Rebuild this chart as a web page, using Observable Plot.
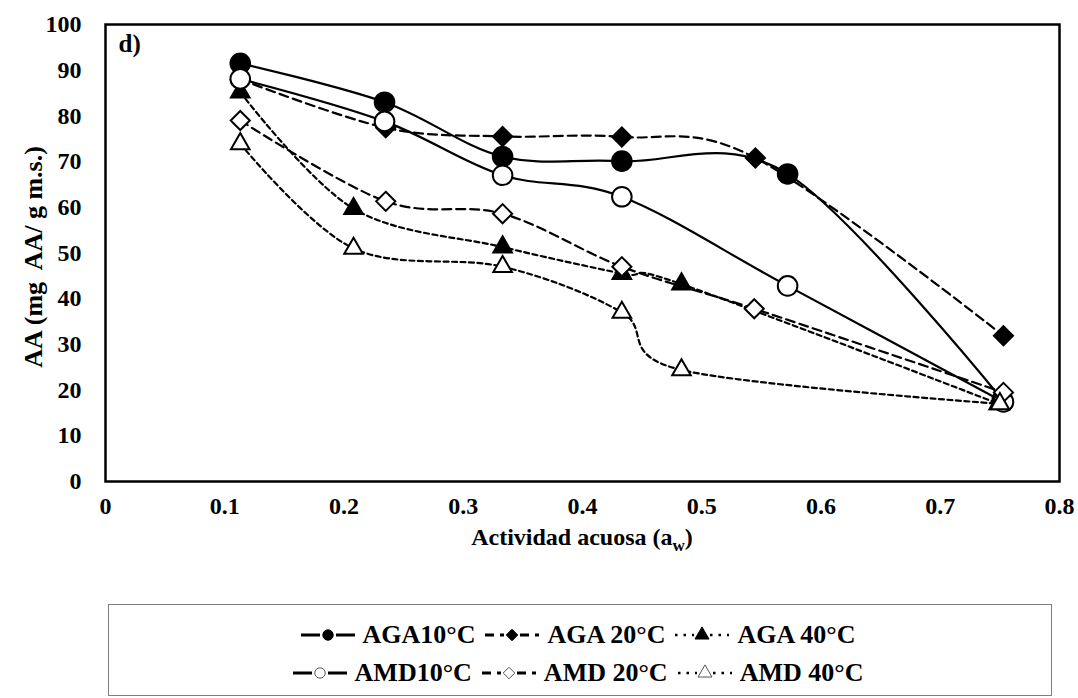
<!DOCTYPE html>
<html>
<head>
<meta charset="utf-8">
<script src="https://cdn.jsdelivr.net/npm/d3@7"></script>
<script src="https://cdn.jsdelivr.net/npm/@observablehq/plot@0.6"></script>
<style>
  html, body { margin: 0; padding: 0; background: #fff; }
  body { width: 1078px; height: 698px; position: relative; overflow: hidden; font-family: "Liberation Serif", serif; }
  #chart { position: absolute; left: 0; top: 0; }
  #chart svg, #chart svg text { font-family: "Liberation Serif", serif !important; font-weight: bold; }
  #legend { position: absolute; left: 108px; top: 604px; width: 944px; height: 92px; border: 1px solid #7f7f7f; box-sizing: border-box;
            display: flex; flex-direction: column; align-items: center; justify-content: flex-start; padding-top: 11px; }
  .row { display: flex; align-items: center; height: 38px; font-family: "Liberation Serif", serif; font-weight: bold; font-size: 26px; color: #000; }
  .item { display: flex; align-items: center; margin-right: 7px; }
  .item svg { margin-right: 5px; }
</style>
</head>
<body>
<div id="chart"></div>
<div id="legend"></div>
<script>
// ---- data ----
const seriesNames = ["AGA10°C", "AGA 20°C", "AGA 40°C", "AMD10°C", "AMD 20°C", "AMD 40°C"];

const awAGA10 = [0.113, 0.234, 0.333, 0.433, 0.572, 0.752];
const aaAGA10 = [91.5, 83.0, 71.1, 70.1, 67.3, 17.9];

const awAGA20 = [0.113, 0.235, 0.333, 0.433, 0.545, 0.753];
const aaAGA20 = [88.0, 77.4, 75.5, 75.4, 70.8, 31.9];

const awAGA40 = [0.113, 0.208, 0.333, 0.433, 0.483, 0.749];
const aaAGA40 = [85.2, 59.7, 51.3, 45.5, 43.2, 17.0];

const awAMD10 = [0.113, 0.234, 0.333, 0.433, 0.572, 0.753];
const aaAMD10 = [88.1, 78.8, 67.0, 62.3, 42.8, 17.4];

const awAMD20 = [0.113, 0.235, 0.333, 0.433, 0.544, 0.753];
const aaAMD20 = [79.0, 61.3, 58.6, 47.0, 37.8, 19.5];

const awAMD40 = [0.113, 0.208, 0.333, 0.433, 0.483, 0.750];
const aaAMD40 = [73.9, 51.0, 47.0, 37.0, 24.4, 17.0];

const xTicks = [0, 0.1, 0.2, 0.3, 0.4, 0.5, 0.6, 0.7, 0.8];
const yTicks = [0, 10, 20, 30, 40, 50, 60, 70, 80, 90, 100];

// ---- styles per series ----
const styles = {
  "AGA10°C":  {symbol: "circle",   r: 9.8, fill: "black", dash: null},
  "AGA 20°C": {symbol: "diamond2", r: 8.6, fill: "black", dash: "9,5"},
  "AGA 40°C": {symbol: "triangle", r: 6.9, fill: "black", dash: "5,3.5"},
  "AMD10°C":  {symbol: "circle",   r: 9.8, fill: "white", dash: null},
  "AMD 20°C": {symbol: "diamond2", r: 8.6, fill: "white", dash: "9,5"},
  "AMD 40°C": {symbol: "triangle", r: 6.9, fill: "white", dash: "5,3.5"}
};

const awList = [awAGA10, awAGA20, awAGA40, awAMD10, awAMD20, awAMD40];
const aaList = [aaAGA10, aaAGA20, aaAGA40, aaAMD10, aaAMD20, aaAMD40];
const table = seriesNames.map((name, i) => awList[i].map((aw, j) => ({series: name, aw, aa: aaList[i][j]})));

const lineMarks = table.map((rows) => {
  const s = styles[rows[0].series];
  return Plot.line(rows, {x: "aw", y: "aa", curve: "cardinal", stroke: "black", strokeWidth: 2.2,
    strokeDasharray: s.dash || undefined});
});
const dotMarks = table.map((rows) => {
  const s = styles[rows[0].series];
  return Plot.dot(rows, {x: "aw", y: "aa", symbol: () => s.symbol, r: s.r, fill: s.fill, stroke: "black", strokeWidth: 2});
});

const chart = Plot.plot({
  width: 1078,
  height: 570,
  marginLeft: 105,
  marginRight: 19,
  marginTop: 24,
  marginBottom: 89,
  x: {domain: [0, 0.8]},
  y: {domain: [0, 100]},
  symbol: {type: "identity"},
  style: "font-family: 'Liberation Serif', serif; font-weight: bold; font-size: 24px; color: black; background: white;",
  marks: [
    Plot.axisX({ticks: xTicks, tickSize: 0, tickPadding: 15, label: null, fontSize: 24,
      tickFormat: d => d === 0 ? "0" : d3.format(".1f")(d)}),
    Plot.axisY({ticks: yTicks, tickSize: 0, tickPadding: 24, label: null, fontSize: 24}),
    ...lineMarks,
    ...dotMarks,
    Plot.frame({stroke: "black", strokeWidth: 2.5}),
    Plot.text(["d)"], {text: d => d, frameAnchor: "top-left", dx: 13, dy: 10, lineAnchor: "top", textAnchor: "start",
      fontSize: 25, fontWeight: "bold"})
  ]
});
document.getElementById("chart").appendChild(chart);

// axis titles (with subscript)
const svg = d3.select(chart);
const xl = svg.append("text").attr("x", 582).attr("y", 545).attr("text-anchor", "middle")
  .attr("font-size", 24).attr("font-weight", "bold").attr("fill", "black");
xl.append("tspan").text("Actividad acuosa (a");
xl.append("tspan").attr("font-size", 17).attr("dy", 6).text("w");
xl.append("tspan").attr("dy", -6).text(")");

svg.append("text").attr("transform", "translate(36,257) rotate(-90)").attr("text-anchor", "middle")
  .attr("dominant-baseline", "middle").attr("font-size", 26).attr("font-weight", "bold").attr("fill", "black")
  .style("white-space", "pre").text("AA (mg  AA/ g m.s.)");

// ---- legend ----
const legend = document.getElementById("legend");
const rows = [seriesNames.slice(0, 3), seriesNames.slice(3)];
function swatch(name) {
  const s = styles[name];
  const w = 60, h = 22, cx = w / 2, cy = h / 2;
  const ns = "http://www.w3.org/2000/svg";
  const el = document.createElementNS(ns, "svg");
  el.setAttribute("width", w); el.setAttribute("height", h);
  const d3el = d3.select(el);
  let dash = null, lw = 3;
  if (s.dash === "9,5") dash = "9,6";
  if (s.dash === "5,3.5") { dash = "2.5,6"; lw = 2.5; }
  d3el.append("line").attr("x1", 3).attr("x2", cx - 8).attr("y1", cy).attr("y2", cy).attr("stroke", "black").attr("stroke-width", lw).attr("stroke-dasharray", dash);
  d3el.append("line").attr("x1", cx + 8).attr("x2", w - 3).attr("y1", cy).attr("y2", cy).attr("stroke", "black").attr("stroke-width", lw).attr("stroke-dasharray", dash);
  const sym = s.symbol === "circle" ? d3.symbolCircle : s.symbol === "triangle" ? d3.symbolTriangle : d3.symbolDiamond2;
  d3el.append("path").attr("d", d3.symbol(sym, 85)()).attr("transform", `translate(${cx},${cy})`)
    .attr("fill", s.fill).attr("stroke", s.fill === "black" ? "black" : "#555").attr("stroke-width", 1);
  return el;
}
rows.forEach(r => {
  const row = document.createElement("div");
  row.className = "row";
  r.forEach(name => {
    const it = document.createElement("div");
    it.className = "item";
    it.appendChild(swatch(name));
    const t = document.createElement("span");
    t.textContent = name;
    it.appendChild(t);
    row.appendChild(it);
  });
  legend.appendChild(row);
});
</script>
</body>
</html>
